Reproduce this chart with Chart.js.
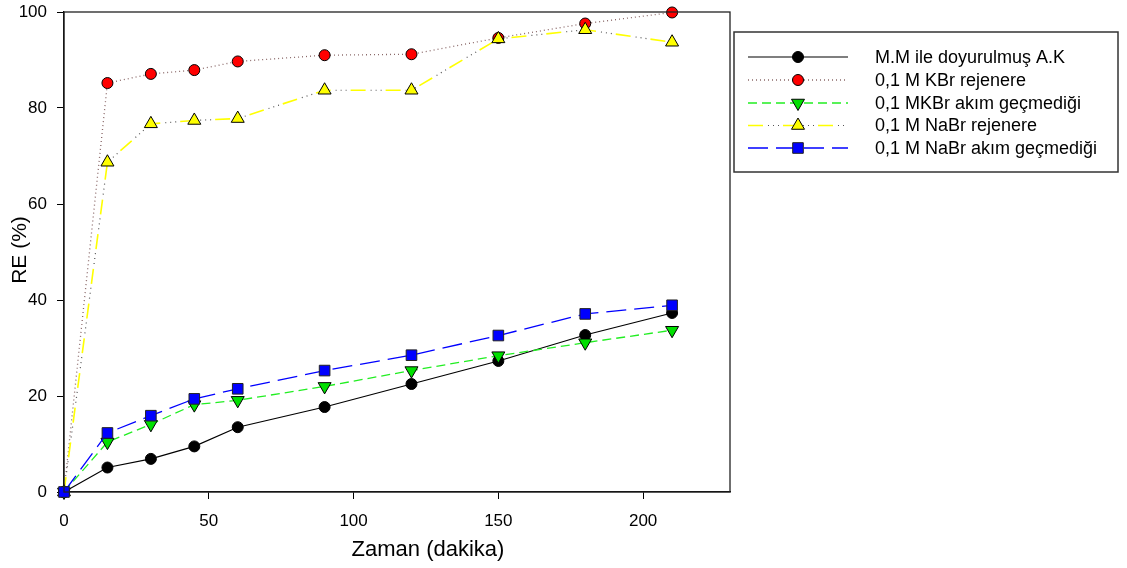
<!DOCTYPE html>
<html>
<head>
<meta charset="utf-8">
<script src="https://cdn.jsdelivr.net/npm/chart.js@4/dist/chart.umd.min.js"></script>
<style>
html,body{margin:0;padding:0;background:#fff;}
#wrap{width:1127px;height:568px;}
</style>
</head>
<body>
<div id="wrap"><canvas id="c" width="1127" height="568"></canvas></div>
<script>
// ---- data ----
const times = [0, 15, 30, 45, 60, 90, 120, 150, 180, 210];
const mmDoyurulmus = [0, 5.1, 6.9, 9.5, 13.5, 17.7, 22.5, 27.3, 32.7, 37.3];
const kbrRejenere = [0, 85.2, 87.1, 87.9, 89.7, 91.0, 91.2, 94.6, 97.6, 99.9];
const kbrAkimYok = [0, 10.4, 14.1, 18.2, 19.1, 22.0, 25.3, 28.4, 31.1, 33.7];
const nabrRejenere = [0, 68.7, 76.7, 77.4, 77.8, 83.7, 83.7, 94.4, 96.3, 93.7];
const nabrAkimYok = [0, 12.3, 15.9, 19.4, 21.5, 25.3, 28.5, 32.6, 37.1, 38.9];
const seriesLabels = [
  'M.M ile doyurulmuş A.K',
  '0,1 M KBr rejenere',
  '0,1 MKBr akım geçmediği',
  '0,1 M NaBr rejenere',
  '0,1 M NaBr akım geçmediği'
];
const xTicks = [0, 50, 100, 150, 200];
const yTicks = [0, 20, 40, 60, 80, 100];
const xTitle = 'Zaman (dakika)';
const yTitle = 'RE (%)';

const pts = (ys) => times.map((t, i) => ({x: t, y: ys[i]}));
const FONT = '"Liberation Sans", Arial, sans-serif';

const datasets = [
  {label: seriesLabels[0], data: pts(mmDoyurulmus), order: 5,
   borderColor: '#000', borderWidth: 1.2, pointStyle: 'circle', pointRadius: 5.5,
   pointBackgroundColor: '#000', pointBorderColor: '#000', pointBorderWidth: 1},
  {label: seriesLabels[1], data: pts(kbrRejenere), order: 4,
   borderColor: '#8a6868', borderWidth: 1.3, borderDash: [1, 3], pointStyle: 'circle', pointRadius: 5.5,
   pointBackgroundColor: '#ff0000', pointBorderColor: '#000', pointBorderWidth: 1},
  {label: seriesLabels[2], data: pts(kbrAkimYok), order: 3,
   borderColor: '#22ee22', borderWidth: 1.3, borderDash: [9, 5], pointStyle: 'triangle', pointRotation: 180, pointRadius: 7.5,
   pointBackgroundColor: '#00e000', pointBorderColor: '#000', pointBorderWidth: 1},
  {label: seriesLabels[3], data: pts(nabrRejenere), order: 2,
   borderColor: '#ffff00', borderWidth: 1.6, borderDash: [15, 20], pointStyle: 'triangle', pointRadius: 7.5,
   pointBackgroundColor: '#ffff00', pointBorderColor: '#000', pointBorderWidth: 1},
  {label: '', companion: 3, data: pts(nabrRejenere), order: 2.5,
   borderColor: '#555', borderWidth: 1.2, borderDash: [1, 4, 1, 4, 1, 24], borderDashOffset: 15, pointRadius: 0},
  {label: seriesLabels[4], data: pts(nabrAkimYok), order: 1,
   borderColor: '#0000ff', borderWidth: 1.3, borderDash: [20, 8], pointStyle: 'rect', pointRadius: 7.5,
   pointBackgroundColor: '#0000ff', pointBorderColor: '#222', pointBorderWidth: 1}
];
datasets.forEach(d => { d.tension = 0; d.clip = false; d.fill = false; d.pointHoverRadius = d.pointRadius; });

function drawMarker(ctx, style, rot, r, x, y) {
  if (Chart.helpers && Chart.helpers.drawPoint) {
    Chart.helpers.drawPoint(ctx, {pointStyle: style, rotation: rot || 0, radius: r, borderWidth: 1}, x, y);
  }
}

const framePlugin = {
  id: 'frameAndLegend',
  afterDraw(chart) {
    const ctx = chart.ctx, a = chart.chartArea;
    ctx.save();
    // plot frame
    ctx.strokeStyle = '#222'; ctx.lineWidth = 1.3; ctx.setLineDash([]);
    ctx.strokeRect(a.left, a.top, a.right - a.left, a.bottom - a.top);
    // axis titles
    ctx.fillStyle = '#000';
    ctx.textAlign = 'center'; ctx.textBaseline = 'middle';
    ctx.font = '22px ' + FONT;
    ctx.fillText(xTitle, 428, 550);
    ctx.save();
    ctx.translate(20, 250); ctx.rotate(-Math.PI / 2);
    ctx.font = '21px ' + FONT;
    ctx.fillText(yTitle, 0, 0);
    ctx.restore();
    // legend box
    const lx = 734, ly = 32, lw = 384, lh = 140;
    ctx.strokeStyle = '#333'; ctx.lineWidth = 1.5;
    ctx.strokeRect(lx, ly, lw, lh);
    const rows = [57, 80, 103, 125.5, 148];
    const ds = chart.data.datasets;
    let row = 0;
    ds.forEach((d, i) => {
      if (!d.label) return;
      const y = rows[row++];
      const drawLine = (dd) => {
        ctx.save();
        ctx.strokeStyle = dd.borderColor; ctx.lineWidth = dd.borderWidth;
        ctx.setLineDash(dd.borderDash || []); ctx.lineDashOffset = dd.borderDashOffset || 0;
        ctx.beginPath(); ctx.moveTo(748, y); ctx.lineTo(848, y); ctx.stroke();
        ctx.restore();
      };
      ds.forEach(o => { if (o.companion === i) drawLine(o); });
      drawLine(d);
      ctx.save();
      ctx.setLineDash([]);
      ctx.fillStyle = d.pointBackgroundColor; ctx.strokeStyle = d.pointBorderColor; ctx.lineWidth = 1;
      drawMarker(ctx, d.pointStyle, d.pointRotation, d.pointRadius, 798, y);
      ctx.restore();
      ctx.fillStyle = '#000'; ctx.textAlign = 'left'; ctx.textBaseline = 'middle';
      ctx.font = '18px ' + FONT;
      ctx.fillText(d.label, 875, y + 1);
    });
    ctx.restore();
  }
};

new Chart(document.getElementById('c'), {
  type: 'line',
  data: {datasets},
  plugins: [framePlugin],
  options: {
    responsive: false, animation: false, devicePixelRatio: 1,
    layout: {padding: {top: 12, right: 397, left: 0, bottom: 0}},
    plugins: {legend: {display: false}, tooltip: {enabled: false}},
    scales: {
      x: {
        type: 'linear', min: 0, max: 230,
        afterFit(s) { s.height = 76; s.paddingLeft = 0; s.paddingRight = 0; },
        afterBuildTicks(s) { s.ticks = xTicks.map(v => ({value: v})); },
        ticks: {color: '#000', font: {family: FONT, size: 17}, padding: 12, maxRotation: 0},
        grid: {drawOnChartArea: false, drawTicks: true, tickLength: 7, color: '#000', lineWidth: 1},
        border: {display: true, color: '#000', width: 1.3},
        title: {display: false, text: xTitle}
      },
      y: {
        type: 'linear', min: 0, max: 100,
        afterFit(s) { s.width = 64; s.paddingTop = 0; s.paddingBottom = 0; },
        afterBuildTicks(s) { s.ticks = yTicks.map(v => ({value: v})); },
        ticks: {color: '#000', font: {family: FONT, size: 17}, padding: 10},
        grid: {drawOnChartArea: false, drawTicks: true, tickLength: 7, color: '#000', lineWidth: 1},
        border: {display: true, color: '#000', width: 1.3},
        title: {display: false, text: yTitle}
      }
    }
  }
});
</script>
</body>
</html>
